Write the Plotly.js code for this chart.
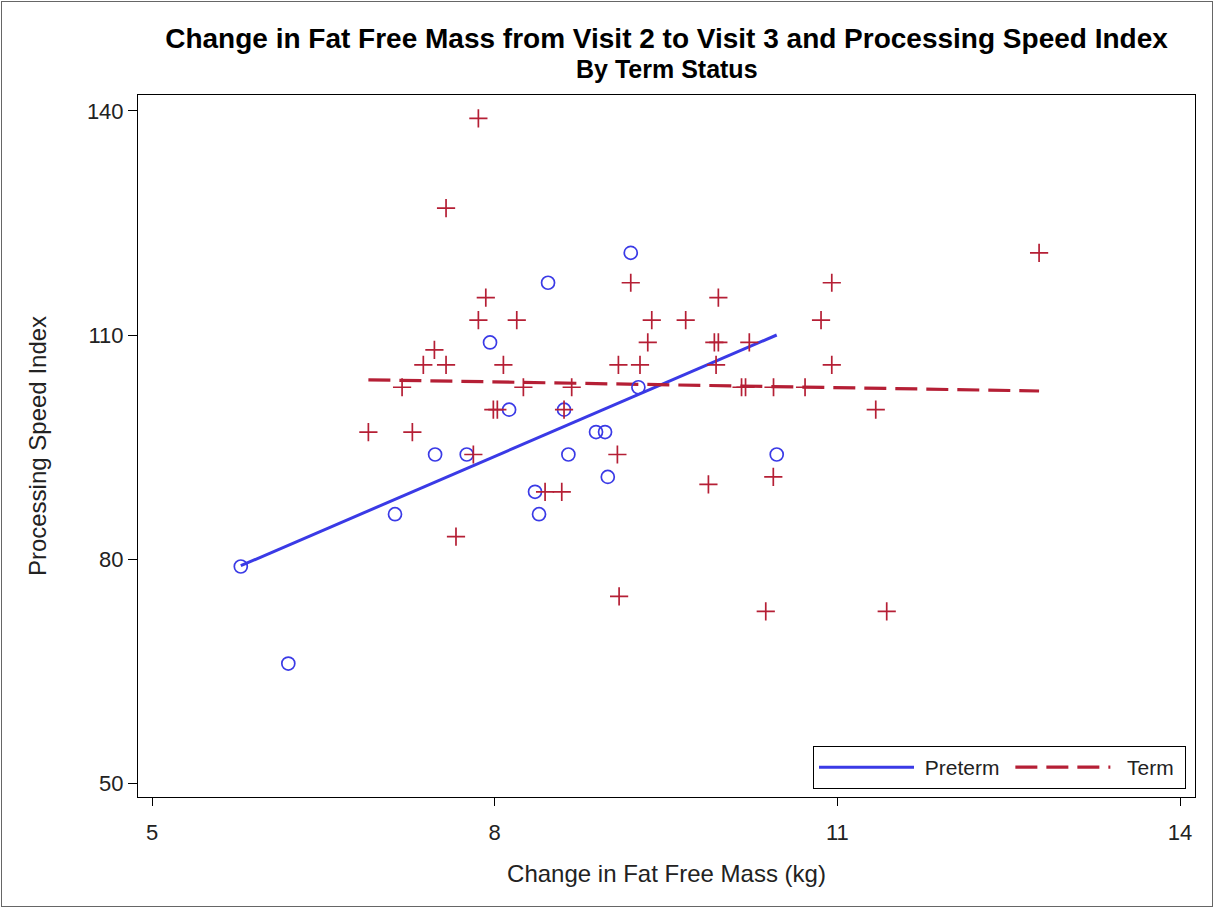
<!DOCTYPE html>
<html>
<head>
<meta charset="utf-8">
<script src="https://cdn.plot.ly/plotly-3.0.1.min.js"></script>
<style>
  html, body { margin: 0; padding: 0; background: #fff; }
  #wrap { position: relative; width: 1215px; height: 909px; }
  #chart { width: 1215px; height: 909px; }
  #frame { position: absolute; left: 1px; top: 1px; width: 1210px; height: 904px;
           border: 1px solid #666; pointer-events: none; }
</style>
</head>
<body>
<div id="wrap">
  <div id="chart"></div>
  <div id="frame"></div>
</div>
<script>
// Preterm (blue circles)
const pretermX = [5.777, 6.193, 7.127, 7.478, 7.755, 7.959, 8.126, 8.353, 8.388, 8.467,
                  8.607, 8.645, 8.887, 8.966, 8.990, 9.191, 9.258, 10.469];
const pretermY = [79, 66, 86, 94, 94, 109, 100, 89, 86, 117,
                  100, 94, 97, 97, 91, 121, 103, 94];

// Term (red plus)
const termX = [7.857, 7.574, 7.922, 7.857, 8.193, 7.472, 7.375, 7.574, 8.076, 7.189,
               8.251, 8.674, 7.988, 8.023, 8.607, 6.894, 7.279, 7.813, 9.074, 8.441,
               8.587, 7.661, 9.089, 9.191, 9.958, 9.375, 9.672, 9.340, 9.923, 9.958,
               10.229, 9.083, 9.272, 9.938, 10.161, 10.196, 10.441, 10.717, 9.871, 10.439,
               10.373, 11.432, 11.336, 10.857, 10.951, 10.951, 12.766];
const termY = [139, 127, 115, 112, 112, 108, 106, 106, 106, 103,
               103, 103, 100, 100, 100, 97, 97, 94, 94, 89,
               89, 83, 75, 117, 115, 112, 112, 109, 109, 109,
               109, 106, 106, 106, 103, 103, 103, 103, 90, 91,
               73, 73, 100, 112, 117, 106, 121];

// Regression fit lines (endpoints)
const pretermFitX = [5.777, 10.469];
const pretermFitY = [79.1, 110.0];
const termFitX = [6.894, 12.766];
const termFitY = [104.0, 102.5];

const xTicks = [5, 8, 11, 14];
const yTicks = [50, 80, 110, 140];

const blue = '#3a3ae6';
const red = '#b51f35';
const txt = '#222222';
const FONT = 'Liberation Sans, Arial, sans-serif';

const traces = [
  { x: pretermFitX, y: pretermFitY, type: 'scatter', mode: 'lines', name: '&nbsp;Preterm&nbsp;',
    line: { color: blue, width: 3 }, hoverinfo: 'skip' },
  { x: termFitX, y: termFitY, type: 'scatter', mode: 'lines', name: '&nbsp;&nbsp;Term&nbsp;',
    line: { color: red, width: 3.2, dash: '22px,9px' }, hoverinfo: 'skip' },
  { x: pretermX, y: pretermY, type: 'scatter', mode: 'markers', name: 'Preterm',
    showlegend: false,
    marker: { symbol: 'circle-open', size: 13, color: blue, line: { color: blue, width: 1.7 } } },
  { x: termX, y: termY, type: 'scatter', mode: 'markers', name: 'Term',
    showlegend: false,
    marker: { symbol: 'cross-thin-open', size: 13, color: red, line: { color: red, width: 1.7 } } }
];

const layout = {
  width: 1215, height: 909,
  paper_bgcolor: '#ffffff', plot_bgcolor: '#ffffff',
  font: { family: FONT, color: txt, size: 22 },
  margin: { l: 138, r: 20, t: 95, b: 112 },
  title: {
    text: '<b>Change in Fat Free Mass from Visit 2 to Visit 3 and Processing Speed Index</b>',
    font: { family: FONT, size: 28, color: '#000' },
    xref: 'paper', x: 0.5, xanchor: 'center',
    yref: 'container', y: 1 - 38 / 909, yanchor: 'middle'
  },
  annotations: [{
    text: '<b>By Term Status</b>', showarrow: false,
    xref: 'paper', x: 0.5, xanchor: 'center',
    yref: 'paper', y: (797 - 69) / 702, yanchor: 'middle',
    font: { family: FONT, size: 25, color: '#000' }
  }],
  xaxis: {
    range: [4.877, 14.131], tickvals: xTicks, ticktext: xTicks.map(String),
    ticks: 'outside', ticklen: 8, tickwidth: 1, tickcolor: '#000',
    showline: true, mirror: true, linecolor: '#000', linewidth: 1,
    showgrid: false, zeroline: false,
    ticklabelstandoff: 8,
    tickfont: { family: FONT, size: 22, color: txt },
    title: { text: 'Change in Fat Free Mass (kg)', font: { family: FONT, size: 24, color: txt }, standoff: 20 }
  },
  yaxis: {
    range: [48.13, 142.14], tickvals: yTicks, ticktext: yTicks.map(String),
    ticks: 'outside', ticklen: 9, tickwidth: 1, tickcolor: '#000',
    showline: true, mirror: true, linecolor: '#000', linewidth: 1,
    showgrid: false, zeroline: false,
    tickfont: { family: FONT, size: 22, color: txt },
    title: { text: 'Processing Speed Index', font: { family: FONT, size: 24, color: txt }, standoff: 33 }
  },
  legend: {
    orientation: 'h', xref: 'paper', yref: 'paper',
    x: (1186 - 138) / 1057, xanchor: 'right',
    y: (797 - 789) / 702, yanchor: 'bottom',
    bordercolor: '#000', borderwidth: 1, bgcolor: '#fff',
    font: { family: FONT, size: 21, color: txt },
    itemwidth: 95
  },
  showlegend: true
};

Plotly.newPlot('chart', traces, layout, { displayModeBar: false, staticPlot: true });
</script>
</body>
</html>
